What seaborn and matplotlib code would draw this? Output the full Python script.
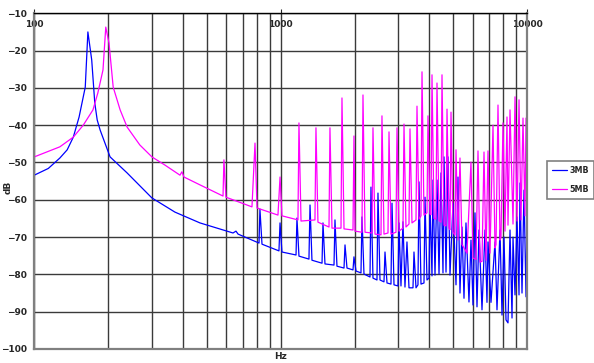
import pandas as pd
import seaborn as sns
import matplotlib
matplotlib.use("Agg")
import matplotlib.pyplot as plt
from matplotlib.ticker import LogLocator, NullFormatter, FixedLocator

# Spectrum traces (Hz, dB)
hz_3mb = [100, 114, 127, 136, 144, 152, 161, 165, 171, 176, 180, 185, 203, 238,
          300, 372, 470, 640, 658, 671,
          816, 823, 839, 983, 993, 1011, 1153, 1163, 1185, 1301, 1314, 1338,
          1470, 1483, 1511, 1644, 1659, 1690, 1805, 1822, 1856, 1963, 1981, 2019,
          2115, 2135, 2175, 2301, 2322, 2366, 2456, 2479, 2526, 2622, 2647, 2697,
          2799, 2826, 2879, 2988, 3017, 3073, 3131, 3190, 3250, 3312, 3438, 3470,
          3536, 3602, 3636, 3705, 3810, 3846, 3918, 3992, 4030, 4106, 4145, 4223,
          4302, 4384, 4466, 4550, 4593, 4680, 4768, 4858, 4996, 5138, 5234, 5333,
          5434, 5536, 5640, 5800, 5910, 6021, 6135, 6251, 6369, 6550, 6736, 6863,
          6928, 7124, 7396, 7535, 7750, 7896, 8045, 8197, 8351, 8509, 8670, 8751,
          8916, 9084, 9256, 9342, 9518, 9698, 9881, 9973]
db_3mb = [-53.4, -51.6, -48.8, -46.6, -43.2, -37.8, -29.8, -15.0, -22.5, -34.1,
          -38.6, -41.3, -48.5, -52.8, -59.5, -63.3,
          -66.2, -68.9, -68.4, -69.2, -71.6, -62.5, -71.9, -73.7, -66.2, -74.0,
          -74.8, -64.9, -75.1, -75.9, -61.4, -76.2, -77.0, -66.2, -77.2, -77.5,
          -65.4, -77.8, -78.3, -72.1, -78.3, -78.8, -75.3, -79.1, -79.6, -64.6,
          -79.9, -80.7, -56.6, -81.0, -81.5, -58.2, -81.5, -82.0, -74.0, -82.3,
          -82.6, -60.9, -82.8, -83.1, -66.2, -83.1, -65.9, -83.4, -71.3, -83.6,
          -83.6, -74.0, -83.6, -82.8, -55.2, -82.6, -82.3, -59.3, -81.5, -81.0,
          -60.9, -80.4, -54.7, -80.2, -54.7, -79.9, -52.8, -79.6, -48.5, -79.4,
          -48.5, -80.2, -60.9, -82.8, -53.9, -85.0, -67.3, -86.4, -66.2, -87.4,
          -70.8, -88.2, -63.5, -88.7, -68.1, -89.5, -68.1, -87.5, -71.3, -87.5,
          -71.3, -89.5, -68.1, -90.9, -70.0, -92.2, -93.0, -68.1, -91.7, -70.0,
          -85.5, -64.6, -85.5, -55.5, -85.0, -57.4, -86.0, -64.6]

hz_5mb = [100, 127, 144, 158, 173, 181, 190, 195, 201, 209, 223, 238, 268, 300,
          339, 390, 397, 405, 470,
          583, 588, 599, 764, 786, 801, 974, 993, 1011, 1174, 1185, 1208, 1376,
          1389, 1415, 1569, 1583, 1613, 1755, 1771, 1805, 1963, 1981, 2000, 2135,
          2155, 2196, 2344, 2366, 2411, 2550, 2573, 2622, 2722, 2748, 2799, 2933,
          2961, 3017, 3131, 3161, 3220, 3312, 3343, 3406, 3536, 3569, 3636, 3705,
          3740, 3810, 3918, 3955, 4030, 4068, 4106, 4184, 4262, 4302, 4384, 4466,
          4508, 4593, 4680, 4724, 4813, 4858, 4904, 4996, 5090, 5138, 5234, 5333,
          5434, 5536, 5693, 5910, 6021, 6193, 6310, 6429, 6550, 6674, 6799, 6928,
          7058, 7259, 7396, 7465, 7606, 7750, 7822, 7970, 8120, 8273, 8351, 8509,
          8751, 8916, 9084, 9256, 9429, 9607, 9788, 9881, 9973]
db_5mb = [-48.5, -45.8, -43.2, -40.0, -35.9, -31.4, -25.2, -13.7, -18.0, -29.8,
          -35.9, -40.5, -45.3, -48.5, -50.7,
          -53.4, -52.5, -53.9, -56.0, -59.0, -49.3, -59.3, -61.9, -44.8, -62.2,
          -64.1, -53.9, -64.3, -65.4, -39.4, -65.7, -65.4, -40.7, -66.0, -67.3,
          -40.7, -67.6, -67.6, -32.7, -67.8, -68.1, -42.9, -68.4, -68.7, -31.9,
          -68.7, -68.9, -40.7, -69.2, -69.4, -37.5, -69.2, -68.9, -41.8, -69.2,
          -68.7, -40.7, -68.4, -67.6, -39.7, -67.3, -66.5, -41.0, -66.2, -65.4,
          -34.9, -65.2, -64.3, -25.7, -64.1, -63.5, -37.5, -63.8, -64.0, -26.5,
          -65.0, -65.2, -28.7, -65.6, -66.0, -26.5, -66.8, -67.0, -35.7, -67.6,
          -68.0, -36.5, -68.7, -69.5, -46.6, -70.8, -48.8, -72.0, -72.9, -74.3,
          -49.9, -75.6, -76.0, -46.9, -76.7, -76.5, -47.2, -76.2, -46.9, -74.3,
          -40.0, -72.9, -72.0, -34.6, -70.8, -70.0, -39.4, -68.4, -37.8, -66.8,
          -35.9, -66.5, -32.4, -65.7, -33.2, -65.4, -38.1, -64.3, -38.1, -63.5]

y_ticks = [-10, -20, -30, -40, -50, -60, -70, -80, -90, -100]
x_ticks = [100, 1000, 10000]

df = pd.concat([
    pd.DataFrame({"Hz": hz_3mb, "dB": db_3mb, "series": "3MB"}),
    pd.DataFrame({"Hz": hz_5mb, "dB": db_5mb, "series": "5MB"}),
])

sns.set_style("white")
plt.rcParams["font.family"] = ["DejaVu Sans"]
fs = 6.5

fig = plt.figure(figsize=(5.94, 3.63), dpi=100)
ax = fig.add_axes([0.0577, 0.0386, 0.830, 0.9248])

sns.lineplot(data=df, x="Hz", y="dB", hue="series",
             palette={"3MB": "#0000ff", "5MB": "#ff00ff"},
             estimator=None, sort=False, lw=0.9, ax=ax, legend=True)

ax.set_xscale("log")
ax.set_xlim(100, 10000)
ax.set_ylim(-100, -10)

ax.xaxis.set_major_locator(FixedLocator(x_ticks))
ax.xaxis.set_minor_locator(LogLocator(base=10, subs=range(2, 10)))
ax.xaxis.set_minor_formatter(NullFormatter())
ax.set_xticklabels([str(v) for v in x_ticks])
ax.set_yticks(y_ticks)

ax.xaxis.set_ticks_position("top")
ax.tick_params(axis="x", which="major", direction="out", length=3, pad=-14.5,
               labelsize=fs, width=0.8)
ax.tick_params(axis="x", which="minor", length=0)
ax.tick_params(axis="y", direction="out", length=4, pad=1, labelsize=fs, width=1.2)
for lab in ax.get_xticklabels() + ax.get_yticklabels():
    lab.set_fontweight("bold")

ax.grid(True, which="both", axis="x", color="#3a3a3a", lw=1.0)
ax.grid(True, which="major", axis="y", color="#3a3a3a", lw=1.0)
ax.set_axisbelow(True)

for s in ["left", "bottom", "right"]:
    ax.spines[s].set_color("#808080")
    ax.spines[s].set_linewidth(1.6)
ax.spines["top"].set_color("black")
ax.spines["top"].set_linewidth(1.0)

ax.set_xlabel("Hz", fontsize=fs, fontweight="bold", labelpad=2)
ax.xaxis.set_label_position("bottom")
ax.set_ylabel("dB", fontsize=fs, fontweight="bold")
ax.yaxis.set_label_coords(-0.043, 0.48)

h, l = ax.get_legend_handles_labels()
ax.get_legend().remove()
leg = fig.legend(h, l, loc="center left", bbox_to_anchor=(0.921, 0.504),
                 fontsize=5.8, frameon=True, fancybox=False, edgecolor="#606060",
                 handlelength=1.9, handletextpad=0.3, borderpad=0.6,
                 labelspacing=1.3, borderaxespad=0)
leg.get_frame().set_linewidth(1.2)
for t in leg.get_texts():
    t.set_fontweight("bold")

fig.savefig("out.png", dpi=100)
